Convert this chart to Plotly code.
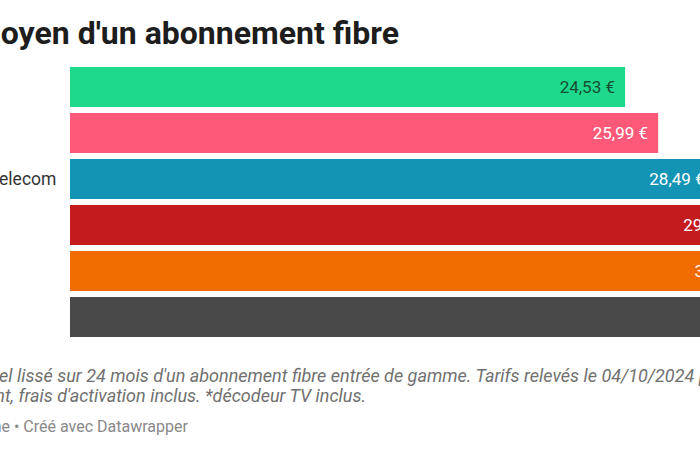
import plotly.graph_objects as go

# ---- data ----
operators = ["RED by SFR", "Sosh", "Bouygues Telecom", "SFR", "Orange", "Free*"]
prices = [24.53, 25.99, 28.49, 29.99, 30.49, 34.99]
bar_colors = ["#1ed98b", "#fe5978", "#1494b5", "#c41b1f", "#f06c00", "#494949"]
label_colors = ["#174d33", "#ffffff", "#ffffff", "#ffffff", "#ffffff", "#ffffff"]
price_labels = ["24,53 €", "25,99 €", "28,49 €", "29,99 €", "30,49 €", "34,99 €"]

title_text = "Prix moyen d'un abonnement fibre"
note_line1 = ("Prix mensuel lissé sur 24 mois d'un abonnement fibre entrée de gamme. "
              "Tarifs relevés le 04/10/2024 pour")
note_line2 = "un abonnement sans engagement, frais d'activation inclus. *décodeur TV inclus."
source_line = "Source : offres en ligne • Créé avec Datawrapper"

# ---- layout constants (pixels) ----
W, H = 700, 450
L, R, T, B = 70, 0, 63.7, 110.3
plot_w = W - L - R
plot_h = H - T - B
px_per_unit = 22.63
x_max = plot_w / px_per_unit


def xp(px):
    return (px - L) / plot_w


def yp(py):
    return (H - B - py) / plot_h


fig = go.Figure()
fig.add_trace(go.Bar(
    orientation="h",
    x=prices,
    y=operators,
    marker=dict(color=bar_colors, line=dict(width=0)),
    text=[t + "\u00a0\u2006" for t in price_labels],
    textposition="inside",
    insidetextanchor="end",
    textfont=dict(family="Roboto", size=17, color=label_colors),
    cliponaxis=True,
    hoverinfo="skip",
))

annotations = []
# category labels, left-aligned in a column that starts off-screen
for op in operators:
    annotations.append(dict(
        x=xp(-93), xref="paper", y=op, yref="y",
        text=op, showarrow=False, xanchor="left", yanchor="middle",
        font=dict(family="Roboto", size=17.5, color="#333333"),
    ))

annotations.append(dict(
    x=xp(401), xref="paper", y=yp(33), yref="paper",
    text="<b>" + title_text + "</b>", showarrow=False,
    xanchor="right", yanchor="middle",
    font=dict(family="Roboto", size=32, color="#1d1d1d"),
))
annotations.append(dict(
    x=xp(737), xref="paper", y=yp(375), yref="paper",
    text="<i>" + note_line1 + "</i>", showarrow=False,
    xanchor="right", yanchor="middle",
    font=dict(family="Roboto", size=18, color="#707070"),
))
annotations.append(dict(
    x=xp(368), xref="paper", y=yp(395), yref="paper",
    text="<i>" + note_line2 + "</i>", showarrow=False,
    xanchor="right", yanchor="middle",
    font=dict(family="Roboto", size=18, color="#707070"),
))
annotations.append(dict(
    x=xp(190), xref="paper", y=yp(426), yref="paper",
    text=source_line, showarrow=False,
    xanchor="right", yanchor="middle",
    font=dict(family="Roboto", size=16, color="#888888"),
))

fig.update_layout(
    width=W, height=H,
    margin=dict(l=L, r=R, t=T, b=B, autoexpand=False),
    paper_bgcolor="#ffffff", plot_bgcolor="#ffffff",
    bargap=0.13,
    showlegend=False,
    xaxis=dict(range=[0, x_max], visible=False, fixedrange=True),
    yaxis=dict(type="category", categoryarray=operators, categoryorder="array",
               range=[len(operators) - 0.5, -0.5], visible=False, fixedrange=True),
    annotations=annotations,
)

fig.write_html("out.html", config={"displayModeBar": False})
